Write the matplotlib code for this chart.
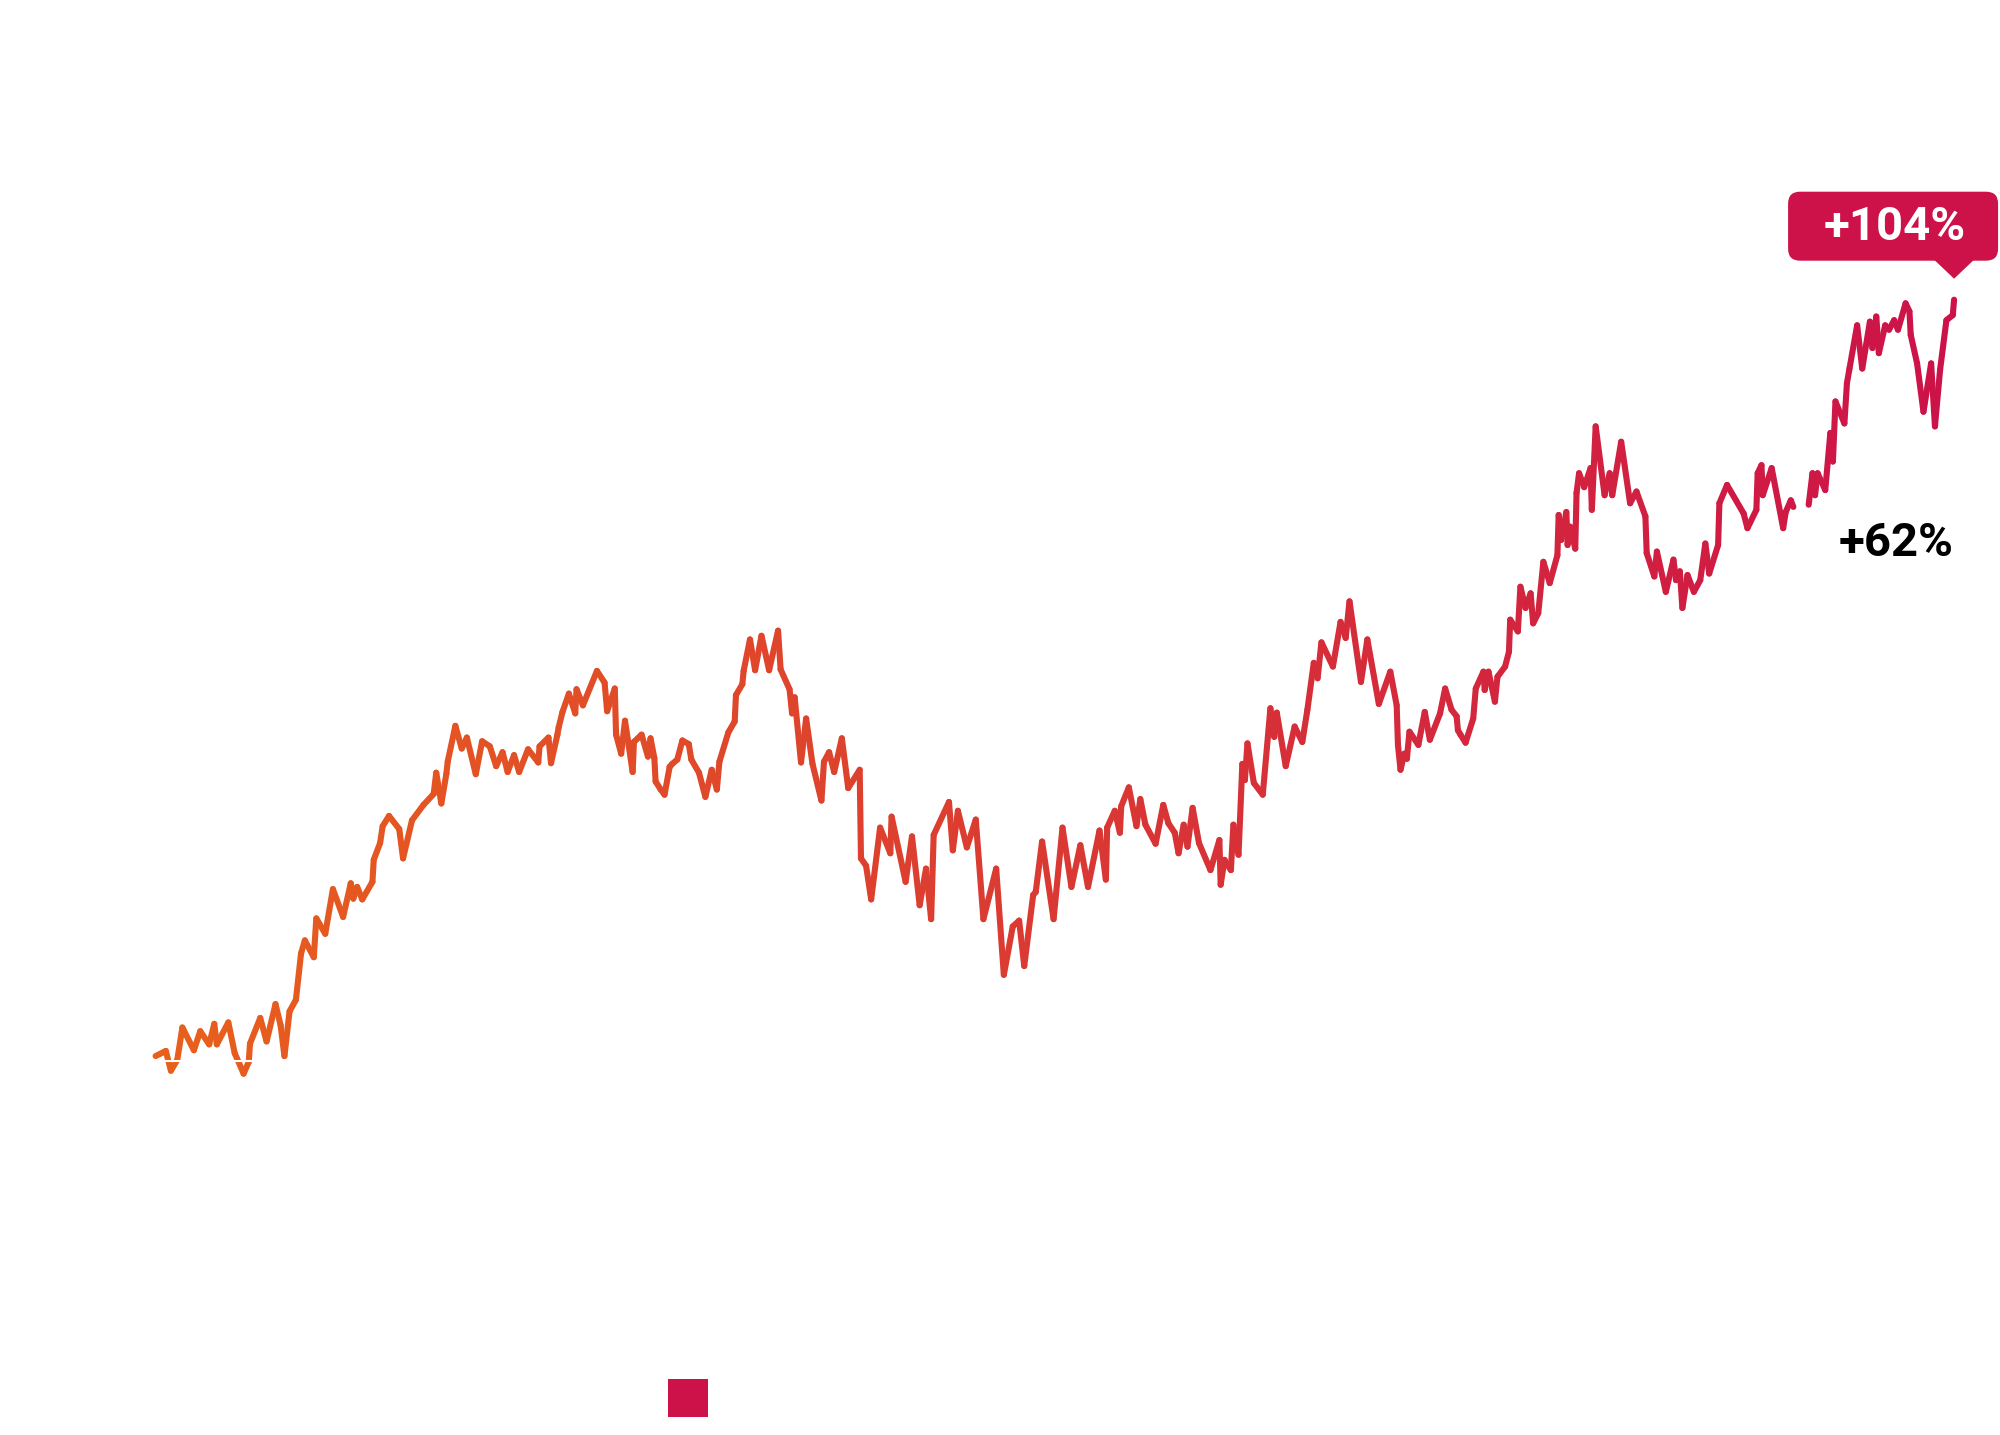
import matplotlib
matplotlib.use('Agg')
import matplotlib.pyplot as plt
import matplotlib.colors as mcolors
import matplotlib.transforms as mtransforms
from matplotlib.collections import LineCollection
from matplotlib.patches import FancyBboxPatch, Polygon, Rectangle
import numpy as np

plt.rcParams['font.family'] = ['Roboto', 'DejaVu Sans']

# cumulative change (%) against a trading-day index
day = [0, 8, 12, 17, 21, 30, 35, 42, 46, 48, 57, 62, 69, 73, 74, 82, 87, 94, 98, 101,
       105, 110, 114, 117, 124, 126, 133, 139, 147, 153, 155, 158, 162, 170, 171, 176, 178, 183, 191, 194,
       201, 210, 218, 220, 224, 228, 229, 235, 240, 244, 251, 256, 262, 267, 272, 276, 281, 285, 292, 300,
       301, 308, 310, 315, 316, 319, 324, 329, 330, 335, 346, 352, 354, 360, 361, 365, 368, 374, 375, 381,
       386, 388, 391, 392, 396, 399, 403, 405, 409, 413, 418, 420, 426, 431, 436, 440, 442, 449, 454, 455,
       460, 461, 466, 470, 475, 481, 488, 490, 497, 499, 501, 506, 510, 515, 522, 524, 528, 532, 538, 543,
       552, 553, 557, 561, 568, 576, 577, 588, 593, 599, 604, 608, 610, 622, 625, 629, 636, 643, 649, 659,
       665, 672, 677, 681, 688, 690, 695, 704, 711, 718, 725, 731, 740, 745, 746, 752, 756, 757, 763, 769,
       772, 776, 784, 790, 794, 799, 802, 806, 809, 813, 818, 827, 834, 835, 838, 843, 845, 849, 852, 854,
       856, 861, 868, 874, 877, 879, 886, 893, 899, 903, 908, 911, 914, 923, 929, 933, 936, 945, 950, 959,
       968, 973, 974, 976, 979, 981, 983, 990, 995, 999, 1007, 1011, 1016, 1020, 1021, 1023, 1027, 1033, 1035, 1041,
       1042, 1045, 1050, 1052, 1058, 1061, 1062, 1068, 1070, 1074, 1078, 1080, 1084, 1088, 1093, 1099, 1100, 1102, 1106, 1107,
       1109, 1113, 1114, 1116, 1120, 1125, 1126, 1129, 1136, 1140, 1142, 1149, 1156, 1161, 1168, 1169, 1175, 1177, 1184, 1190,
       1192, 1195, 1197, 1201, 1206, 1211, 1215, 1218, 1225, 1226, 1232, 1245, 1248, 1255, 1256, 1259, 1260, 1267, 1276, 1278,
       1282, 1284, 1290, 1296, 1299, 1301, 1303, 1309, 1313, 1315, 1317, 1324, 1326, 1328, 1334, 1338, 1344, 1346, 1349, 1351,
       1356, 1359, 1363, 1366, 1372, 1375, 1376, 1381, 1386, 1392, 1395, 1399, 1404, 1409, 1410]

change = [0.7, 1.4, -1.3, 0.2, 4.6, 1.5, 4.1, 2.3, 5.1, 2.3, 5.3, 1.1, -1.7, -0.1, 2.4, 5.9, 2.7, 7.8, 4.9, 0.7,
          6.8, 8.4, 14.7, 16.5, 14.2, 19.5, 17.4, 23.5, 19.7, 24.3, 22.2, 23.8, 22.1, 24.5, 27.5, 29.8, 32.1, 33.5, 31.7, 27.7,
          32.9, 35.0, 36.5, 39.4, 35.2, 39.3, 40.9, 45.8, 42.7, 44.2, 39.2, 43.7, 43.0, 40.3, 42.2, 39.5, 41.8, 39.5, 42.6, 40.8,
          43.0, 44.2, 40.7, 44.6, 45.6, 47.7, 50.2, 47.5, 50.8, 48.6, 53.3, 51.7, 47.8, 50.9, 44.6, 42.0, 46.5, 39.5, 43.6, 44.6,
          41.6, 44.1, 41.4, 38.2, 37.1, 36.4, 40.2, 40.6, 41.2, 43.8, 43.3, 41.2, 39.4, 36.1, 39.8, 37.1, 40.9, 44.9, 46.4, 50.0,
          51.5, 53.3, 57.6, 53.4, 58.1, 53.4, 58.8, 53.5, 50.8, 47.5, 49.7, 40.8, 46.8, 40.6, 35.6, 40.9, 42.2, 39.5, 44.1, 37.3,
          39.8, 27.7, 26.7, 22.1, 31.9, 28.4, 33.4, 24.5, 30.7, 21.3, 26.3, 19.4, 30.9, 35.4, 28.8, 34.2, 29.2, 33.0, 19.4, 26.3,
          11.8, 18.4, 19.2, 13.0, 22.7, 23.1, 30.0, 19.4, 31.9, 23.8, 29.5, 23.8, 31.5, 24.8, 31.9, 34.2, 31.2, 34.8, 37.4, 32.1,
          35.8, 32.3, 29.7, 35.0, 32.5, 31.2, 28.4, 32.3, 29.3, 34.6, 29.8, 26.1, 30.2, 24.1, 27.5, 26.1, 32.3, 28.2, 40.6, 38.4,
          43.4, 38.0, 36.4, 48.2, 44.3, 47.6, 40.3, 45.7, 43.6, 48.0, 54.4, 52.3, 57.2, 53.9, 60.0, 57.8, 62.8, 51.8, 57.6, 48.8,
          53.2, 48.6, 43.2, 39.8, 42.0, 41.3, 45.0, 43.2, 47.7, 43.9, 47.5, 50.9, 48.0, 47.1, 45.2, 44.6, 43.5, 46.8, 50.9, 53.2,
          50.7, 53.2, 49.1, 52.5, 53.9, 55.9, 60.3, 58.7, 64.8, 61.9, 63.9, 59.8, 61.2, 68.2, 65.3, 69.1, 74.6, 71.2, 75.0, 70.5,
          73.0, 70.0, 77.6, 80.3, 78.4, 81.0, 75.3, 86.7, 77.3, 80.3, 77.3, 84.6, 76.2, 77.8, 74.4, 69.4, 66.2, 69.6, 64.1, 68.5,
          65.7, 66.9, 61.9, 66.4, 64.1, 65.7, 70.7, 66.6, 70.5, 76.2, 78.7, 74.8, 72.8, 75.3, 80.3, 81.4, 77.3, 81.0, 72.8, 75.0,
          76.6, 75.7, np.nan, 76.0, 80.3, 77.3, 80.3, 78.0, 85.8, 81.9, 90.1, 87.1, 92.6, 94.6, 100.5, 94.6, 101.0, 97.4, 101.7, 96.7,
          100.5, 99.9, 101.2, 99.9, 103.5, 102.4, 99.2, 95.3, 88.7, 95.3, 86.7, 94.4, 101.2, 101.9, 104.0]

final_label = '+104%'
other_final = 62
other_label = '+62%'

START_COLOR = '#E8601C'
END_COLOR = '#CC1249'

fig = plt.figure(figsize=(20, 14.35), dpi=100)
ax = fig.add_axes([0, 0, 1, 1])
ax.set_xlim(-122, 1446)
ax.set_ylim(-51.05, 144.93)
ax.axis('off')

# gradient line, orange -> crimson along time
pts = np.column_stack([day, change])
segs = np.stack([pts[:-1], pts[1:]], axis=1)
segs = segs[~np.isnan(segs).any(axis=(1, 2))]
frac = (segs[:, :, 0].mean(axis=1) - day[0]) / (day[-1] - day[0])
c0 = np.array(mcolors.to_rgb(START_COLOR))
c1 = np.array(mcolors.to_rgb(END_COLOR))
cols = c0 + (c1 - c0) * frac[:, None]
lc = LineCollection(segs, colors=cols, linewidths=4.4, capstyle='round', joinstyle='round', zorder=2)
ax.add_collection(lc)

# baseline drawn in white
ax.axhline(0, color='white', lw=1.5, zorder=3)

# callout at the last point
end = ax.transData.transform((day[-1], change[-1]))
tr = mtransforms.Affine2D().translate(end[0], end[1])
box = FancyBboxPatch((-166, 39), 210, 69, boxstyle='round,pad=0,rounding_size=12',
                     fc=END_COLOR, ec='none', transform=tr, clip_on=False, zorder=4)
ax.add_artist(box)
ax.add_artist(Polygon([(-20, 40), (20, 40), (0, 21)], closed=True, fc=END_COLOR, ec='none',
                      transform=tr, clip_on=False, zorder=4))
ax.text(-59, 73, final_label, transform=tr, ha='center', va='center', color='white',
        fontsize=34, fontweight='bold', zorder=5)

ax.annotate(other_label, xy=(day[-1], other_final), xytext=(-58, 64), textcoords='offset pixels',
            ha='center', va='center', color='black', fontsize=34, fontweight='bold')

# legend swatch
fig.add_artist(Rectangle((668 / 2000, 18 / 1435), 40 / 2000, 38 / 1435, transform=fig.transFigure,
                         fc=END_COLOR, ec='none'))

fig.savefig('out.png', dpi=100, facecolor='white')
